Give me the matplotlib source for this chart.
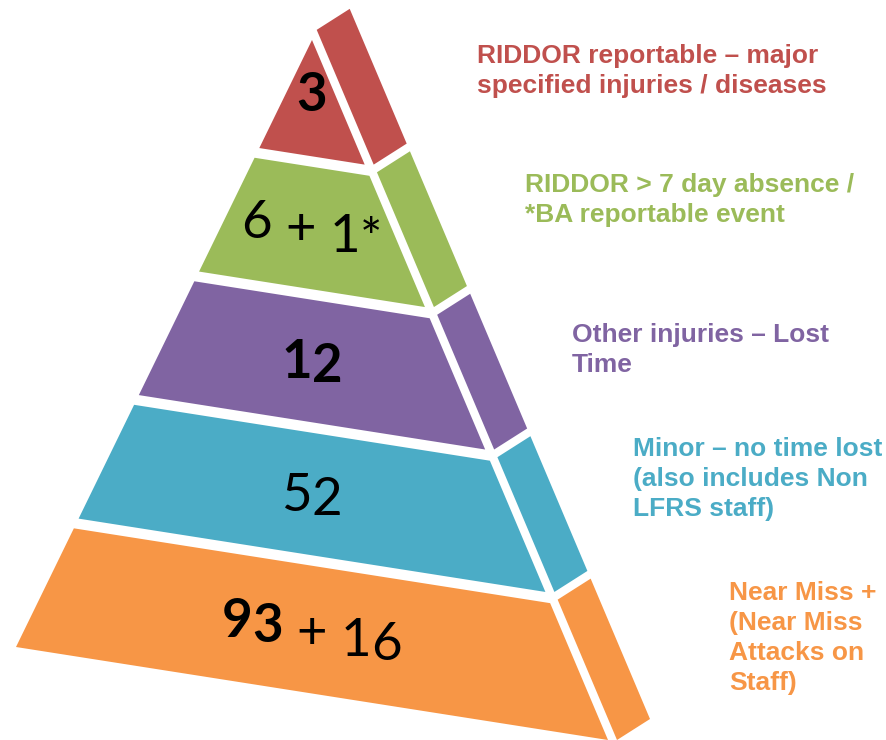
import math

import matplotlib.pyplot as plt
from matplotlib.font_manager import FontProperties, findfont, get_font
from matplotlib.patches import Polygon

# injury levels, top of the pyramid first
levels = [
    "RIDDOR reportable – major\nspecified injuries / diseases",
    "RIDDOR > 7 day absence /\n*BA reportable event",
    "Other injuries – Lost\nTime",
    "Minor – no time lost\n(also includes Non\nLFRS staff)",
    "Near Miss +\n(Near Miss\nAttacks on\nStaff)",
]
counts = ["3", "6", "12", "52", "93"]
extras = ["", " + 1*", "", "", " + 16"]
bold_counts = [True, False, True, False, True]
colors = ["#C0504D", "#9BBB59", "#8064A2", "#4BACC6", "#F79646"]

# layout in pixel space (y grows downward)
W, H = 886, 740
apex = (312, 40)
base_left = (16, 647)
base_right = (608, 740)
side_shift = (9, 0)
depth = (33, -21)
t_start = -0.0175
gap = 0.016
label_xy = [(477, 63), (525, 192), (572, 342), (633, 456), (729, 600)]
line_gap = 30
count_size = 38


def on_edge(end, t):
    return (apex[0] + t * (end[0] - apex[0]), apex[1] + t * (end[1] - apex[1]))


def shift(p, v):
    return (p[0] + v[0], p[1] + v[1])


def advances(text, weight):
    font = get_font(findfont(FontProperties(family="Lato", weight=weight)))
    font.set_size(count_size, 100)
    return [font.load_char(ord(c)).linearHoriAdvance / 65536 for c in text]


fig = plt.figure(figsize=(W / 100, H / 100), dpi=100)
ax = fig.add_axes([0, 0, 1, 1])
ax.set_xlim(0, W)
ax.set_ylim(H, 0)
ax.axis("off")

slope = (base_right[1] - base_left[1]) / (base_right[0] - base_left[0])
n = len(levels)
step = (1 - t_start) / n

for i in range(n):
    t0 = t_start + i * step + gap / 2
    t1 = t_start + (i + 1) * step - (gap / 2 if i < n - 1 else 0)
    tf = max(t0, 0)

    front = [on_edge(base_left, tf), on_edge(base_right, tf),
             on_edge(base_right, t1), on_edge(base_left, t1)]
    ax.add_patch(Polygon(front, closed=True, facecolor=colors[i], edgecolor="none"))

    top = shift(on_edge(base_right, t0 - 0.005), side_shift)
    bot = shift(on_edge(base_right, t1), side_shift)
    side = [top, shift(top, depth), shift(bot, depth), bot]
    ax.add_patch(Polygon(side, closed=True, facecolor=colors[i], edgecolor="none"))

    # count label: upright glyphs on a baseline that follows the band slant
    frac = 0.45 if tf == 0 else 0.5
    tm = tf + frac * (t1 - tf)
    pl, pr = on_edge(base_left, tm), on_edge(base_right, tm)
    cx, cy = (pl[0] + pr[0]) / 2, (pl[1] + pr[1]) / 2
    base_y = cy + 0.36 * count_size * 100 / 72
    segs = [(counts[i], "bold" if bold_counts[i] else "normal"), (extras[i], "normal")]
    chars = []
    for s, w in segs:
        for c, a in zip(s, advances(s, w)):
            chars.append((c, w, a))
    total = sum(a for _, _, a in chars)
    pen = cx - total / 2
    for c, w, a in chars:
        xc = pen + a / 2
        if c != " ":
            ax.text(xc, base_y + slope * (xc - cx), c, fontsize=count_size,
                    family="Lato", fontweight=w, color="black",
                    ha="center", va="baseline")
        pen += a

    # category description to the right
    for j, line in enumerate(levels[i].split("\n")):
        ax.text(label_xy[i][0], label_xy[i][1] + j * line_gap, line,
                color=colors[i], fontsize=19, fontweight="bold",
                family="Liberation Sans", ha="left", va="baseline")

fig.savefig("out.png", dpi=100)
